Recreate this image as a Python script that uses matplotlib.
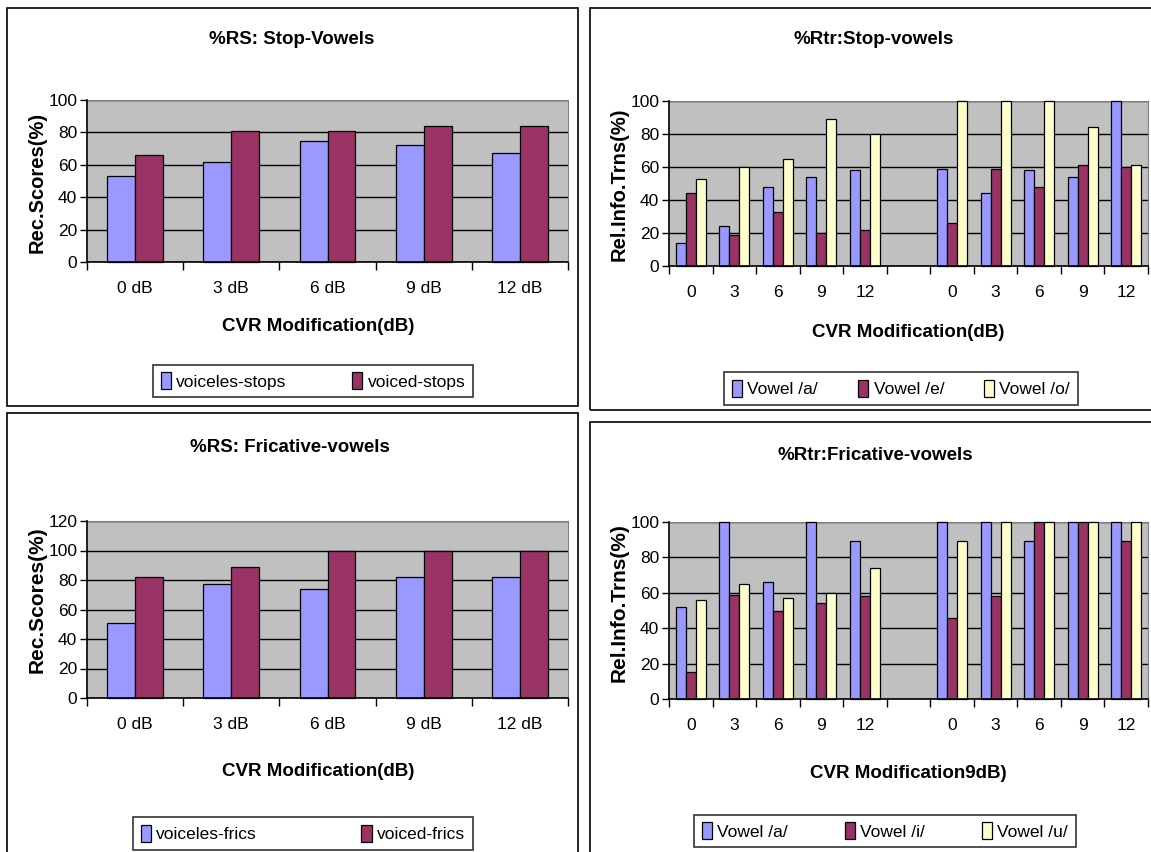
import numpy as np
import matplotlib.pyplot as plt
from matplotlib.patches import Rectangle

# canvas size in pixels
W, H = 1151, 852

# %RS panels: recognition scores per CVR step
db_labels = ['0 dB', '3 dB', '6 dB', '9 dB', '12 dB']
stop_voiceless = [53, 62, 75, 72, 67]
stop_voiced = [66, 81, 81, 84, 84]
fric_voiceless = [51, 77, 74, 82, 82]
fric_voiced = [82, 89, 100, 100, 100]

# %Rtr panels: two sets of five CVR steps with an empty slot between them
cvr_labels = ['0', '3', '6', '9', '12']
stop_a = [14, 24, 48, 54, 58, 59, 44, 58, 54, 100]
stop_e = [44, 19, 33, 20, 22, 26, 59, 48, 61, 60]
stop_o = [53, 60, 65, 89, 80, 100, 100, 100, 84, 61]
fric_a = [52, 100, 66, 100, 89, 100, 100, 89, 100, 100]
fric_i = [15, 59, 50, 54, 58, 46, 58, 100, 100, 89]
fric_u = [56, 65, 57, 60, 74, 89, 100, 100, 100, 100]

BLUE = '#9999FF'
MAROON = '#993366'
CREAM = '#FFFFCC'
PLOT_BG = '#C0C0C0'

NARROW = ['Liberation Sans Narrow', 'Liberation Sans', 'DejaVu Sans']
WIDE = ['Liberation Sans', 'DejaVu Sans']
plt.rcParams['font.family'] = NARROW

fig = plt.figure(figsize=(W / 100, H / 100), dpi=100)


def px_axes(left, top, right, bottom):
    return fig.add_axes([left / W, 1 - bottom / H, (right - left) / W, (bottom - top) / H])


def px_text(x, y, s, **kw):
    fig.text(x / W, 1 - y / H, s, ha='center', va='center', **kw)


def frame(x0, y0, x1, y1):
    fig.add_artist(Rectangle((x0 / W, 1 - y1 / H), (x1 - x0) / W, (y1 - y0) / H,
                             transform=fig.transFigure, fill=False,
                             edgecolor='black', lw=1.2, clip_on=False))


def bars(ax, xs, vals, width, color):
    # unclipped and above the spines so bars reaching the top keep their outline
    return ax.bar(xs, vals, width, color=color, edgecolor='black', lw=0.9,
                  clip_on=False, zorder=3)


def style(ax, ymax, ystep, ncat, labels):
    ax.set_facecolor(PLOT_BG)
    ax.set_ylim(0, ymax)
    ax.set_yticks(np.arange(0, ymax + 1, ystep))
    ax.yaxis.grid(True, color='black', lw=1)
    ax.set_axisbelow(True)
    ax.set_xlim(-0.5, ncat - 0.5)
    ax.set_xticks(np.arange(ncat))
    ax.set_xticklabels(labels)
    ax.set_xticks(np.arange(-0.5, ncat), minor=True)
    ax.tick_params(axis='x', which='major', length=0, pad=14, labelsize=12.5)
    ax.tick_params(axis='x', which='minor', length=6, width=1, direction='out')
    ax.tick_params(axis='y', length=5, width=1, labelsize=12.5, pad=2)
    for side in ['top', 'right']:
        ax.spines[side].set_color('#808080')
    for side in ['left', 'bottom']:
        ax.spines[side].set_color('black')
        ax.spines[side].set_linewidth(1.2)
        ax.spines[side].set_zorder(4)


def legend(handles, labels, x0, y0, x1, y1):
    leg = fig.legend(handles, labels, loc='center', ncol=len(labels),
                     bbox_to_anchor=(x0 / W, 1 - y1 / H, (x1 - x0) / W, (y1 - y0) / H),
                     mode='expand', frameon=True, fancybox=False, fontsize=12.5,
                     handlelength=0.6, handleheight=1.1, handletextpad=0.3,
                     borderaxespad=0, borderpad=0.45)
    leg.get_frame().set_edgecolor('black')
    leg.get_frame().set_linewidth(1.2)


# ---- top left: %RS stop-vowels
frame(7, 8, 578, 406)
ax1 = px_axes(87, 100, 568, 262)
x = np.arange(len(db_labels))
w = 0.29
b1 = bars(ax1, x - w / 2, stop_voiceless, w, BLUE)
b2 = bars(ax1, x + w / 2, stop_voiced, w, MAROON)
style(ax1, 100, 20, 5, db_labels)
px_text(292, 40, '%RS: Stop-Vowels', fontsize=13.5, fontweight='bold')
px_text(318, 326, 'CVR Modification(dB)', fontsize=13.5, fontweight='bold')
px_text(37, 182, 'Rec.Scores(%)', fontsize=14.5, fontweight='bold', rotation=90, family=WIDE)
legend([b1, b2], ['voiceles-stops', 'voiced-stops'], 153, 364, 473, 398)

# ---- bottom left: %RS fricative-vowels
frame(7, 413, 578, 860)
ax3 = px_axes(87, 521, 568, 698)
b1 = bars(ax3, x - w / 2, fric_voiceless, w, BLUE)
b2 = bars(ax3, x + w / 2, fric_voiced, w, MAROON)
style(ax3, 120, 20, 5, db_labels)
px_text(290, 447, '%RS: Fricative-vowels', fontsize=13.5, fontweight='bold')
px_text(318, 771, 'CVR Modification(dB)', fontsize=13.5, fontweight='bold')
px_text(37, 600, 'Rec.Scores(%)', fontsize=15, fontweight='bold', rotation=90, family=WIDE)
legend([b1, b2], ['voiceles-frics', 'voiced-frics'], 133, 817, 473, 850)

# ---- right panels: two blocks of five steps, slot 5 left empty
pos = np.r_[np.arange(5), np.arange(6, 11)]
rtr_labels = cvr_labels + [''] + cvr_labels
wr = 0.23


def rtr_panel(ax, s1, s2, s3):
    h1 = bars(ax, pos - wr, s1, wr, BLUE)
    h2 = bars(ax, pos, s2, wr, MAROON)
    h3 = bars(ax, pos + wr, s3, wr, CREAM)
    style(ax, 100, 20, 11, rtr_labels)
    return h1, h2, h3


frame(590, 8, 1160, 410)
ax2 = px_axes(669, 101, 1148, 266)
h = rtr_panel(ax2, stop_a, stop_e, stop_o)
px_text(874, 40, '%Rtr:Stop-vowels', fontsize=13.5, fontweight='bold')
px_text(908, 332, 'CVR Modification(dB)', fontsize=13.5, fontweight='bold')
px_text(619, 184, 'Rel.Info.Trns(%)', fontsize=14.5, fontweight='bold', rotation=90, family=WIDE)
legend(h, ['Vowel /a/', 'Vowel /e/', 'Vowel /o/'], 724, 370, 1078, 407)

frame(590, 422, 1160, 860)
ax4 = px_axes(669, 522, 1148, 699)
h = rtr_panel(ax4, fric_a, fric_i, fric_u)
px_text(875, 455, '%Rtr:Fricative-vowels', fontsize=13.5, fontweight='bold')
px_text(908, 773, 'CVR Modification9dB)', fontsize=13.5, fontweight='bold')
px_text(619, 603, 'Rel.Info.Trns(%)', fontsize=15, fontweight='bold', rotation=90, family=WIDE)
legend(h, ['Vowel /a/', 'Vowel /i/', 'Vowel /u/'], 694, 812, 1076, 850)

fig.savefig('out.png', dpi=100)
